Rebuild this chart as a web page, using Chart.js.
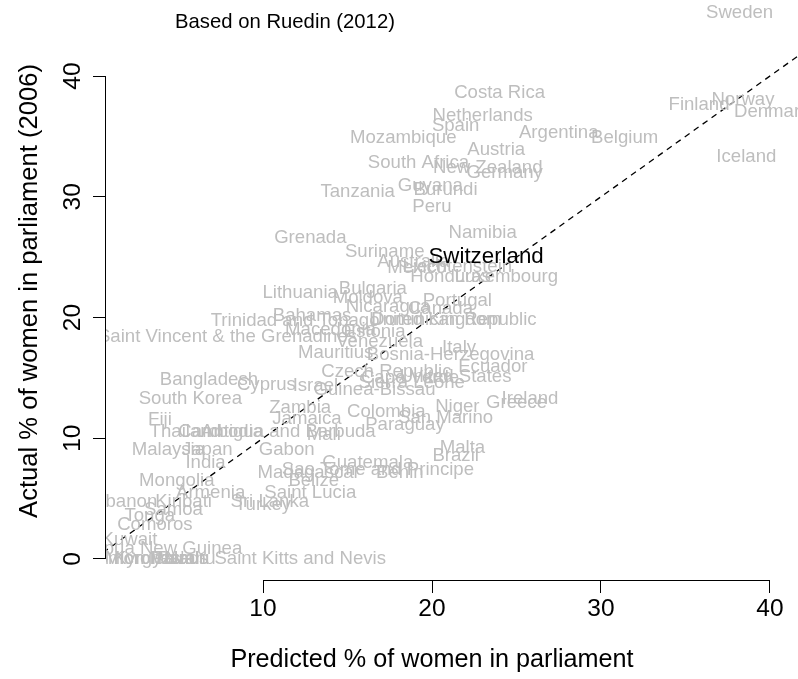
<!DOCTYPE html>
<html><head><meta charset="utf-8">
<script src="https://cdn.jsdelivr.net/npm/chart.js@4/dist/chart.umd.min.js"></script>
<style>html,body{margin:0;padding:0;background:#fff}</style>
</head><body>
<canvas id="c" width="798" height="679"></canvas>
<script>
const countries = ["Sweden","Costa Rica","Finland","Norway","Denmark","Netherlands","Spain","Argentina","Belgium","Mozambique","Austria","Iceland","South Africa","New Zealand","Germany","Tanzania","Guyana","Burundi","Peru","Namibia","Grenada","Suriname","Switzerland","Australia","Mexico","Liechtenstein","Honduras","Luxembourg","Lithuania","Bulgaria","Moldova","Nicaragua","Portugal","Canada","Dominican Republic","United Kingdom","Trinidad and Tobago","Bahamas","Macedonia","Estonia","Saint Vincent & the Grenadines","Venezuela","Italy","Mauritius","Bosnia-Herzegovina","Ecuador","United States","Czech Republic","Cape Verde","Sierra Leone","Guinea-Bissau","Bangladesh","Cyprus","Israel","South Korea","Zambia","Jamaica","Colombia","Niger","Ireland","Greece","San Marino","Paraguay","Fiji","Thailand","Cambodia","Antigua and Barbuda","Mali","Malaysia","Japan","India","Gabon","Guatemala","Madagascar","Sao Tome and Principe","Belize","Benin","Malta","Brazil","Mongolia","Armenia","Saint Lucia","Sri Lanka","Turkey","Kiribati","Lebanon","Samoa","Tonga","Comoros","Kuwait","Papua New Guinea","Saint Kitts and Nevis","Solomon Islands","Kyrgyzstan","Micronesia","Palau","Tuvalu","Nauru"];
const predicted = [38.2,24.0,35.8,38.4,40.1,23.0,21.4,27.5,31.4,18.3,23.8,38.6,19.2,23.3,24.3,15.6,19.9,20.8,20.0,23.0,12.8,17.2,23.2,18.9,19.1,21.5,21.1,24.4,12.2,16.5,16.2,17.4,21.5,20.5,21.3,20.2,11.9,12.9,14.0,16.6,7.9,16.9,21.6,14.3,21.1,23.6,21.4,17.3,18.7,18.8,16.6,6.8,10.2,13.1,5.7,12.2,12.6,17.3,21.5,25.8,25.0,20.8,18.4,3.9,5.4,7.5,11.5,13.6,4.4,6.7,6.6,11.4,16.2,12.7,16.8,13.0,18.1,21.8,21.4,4.9,6.9,12.8,10.4,10.0,5.3,1.6,4.7,3.3,3.6,2.1,4.0,12.2,2.7,3.9,3.3,4.8,5.2,5.7];
const actual = [45.2,38.6,37.6,38.0,37.0,36.7,35.9,35.3,34.9,34.9,33.9,33.3,32.8,32.4,32.0,30.4,30.9,30.6,29.2,27.0,26.6,25.4,25.0,24.6,24.1,24.2,23.4,23.4,22.0,22.4,21.6,20.9,21.4,20.7,19.8,19.8,19.7,20.1,19.0,18.8,18.4,18.0,17.5,17.1,16.9,15.9,15.1,15.5,15.0,14.6,14.0,14.8,14.4,14.3,13.3,12.5,11.6,12.2,12.6,13.3,12.9,11.7,11.1,11.5,10.5,10.5,10.5,10.3,9.0,9.0,8.0,9.0,8.0,7.1,7.4,6.5,7.1,9.2,8.5,6.5,5.5,5.5,4.7,4.5,4.7,4.7,4.1,3.6,2.8,1.6,0.8,0,0,0,0,0,0,0];
const highlight = "Switzerland";
const xTicks = [10, 20, 30, 40];
const yTicks = [0, 10, 20, 30, 40];
const refLine = [0, 50];
const titleText = "Based on Ruedin (2012)";
const xTitle = "Predicted % of women in parliament";
const yTitle = "Actual % of women in parliament (2006)";

const FONT = "'Liberation Sans', Arial, Helvetica, sans-serif";

const labelPlugin = {
  id: 'countryLabels',
  afterDatasetsDraw(chart) {
    const {ctx, chartArea} = chart;
    const meta = chart.getDatasetMeta(0);
    ctx.save();
    ctx.beginPath();
    ctx.rect(chartArea.left, 0, chart.width - chartArea.left, chartArea.bottom);
    ctx.clip();
    ctx.textAlign = 'center';
    ctx.textBaseline = 'middle';
    let hi = -1;
    countries.forEach((name, i) => {
      if (name === highlight) { hi = i; return; }
      const p = meta.data[i];
      ctx.font = "18.6px " + FONT;
      ctx.fillStyle = '#bebebe';
      ctx.fillText(name, p.x, p.y);
    });
    if (hi >= 0) {
      const p = meta.data[hi];
      ctx.font = "22.3px " + FONT;
      ctx.fillStyle = '#000';
      ctx.fillText(countries[hi], p.x, p.y);
    }
    ctx.restore();
  },
  afterDraw(chart) {
    const {ctx, chartArea, scales: {x, y}} = chart;
    ctx.save();
    ctx.strokeStyle = '#000';
    ctx.lineWidth = 1;
    ctx.beginPath();
    ctx.moveTo(x.getPixelForValue(xTicks[0]), chartArea.bottom + 0.5);
    ctx.lineTo(x.getPixelForValue(xTicks[xTicks.length - 1]), chartArea.bottom + 0.5);
    ctx.moveTo(chartArea.left - 0.5, y.getPixelForValue(yTicks[0]));
    ctx.lineTo(chartArea.left - 0.5, y.getPixelForValue(yTicks[yTicks.length - 1]));
    ctx.stroke();
    ctx.font = "20.3px " + FONT;
    ctx.fillStyle = '#000';
    ctx.textAlign = 'center';
    ctx.textBaseline = 'middle';
    ctx.fillText(titleText, chartArea.left + 179, 22);
    ctx.restore();
  }
};

new Chart(document.getElementById('c'), {
  type: 'scatter',
  data: {
    datasets: [
      {
        data: countries.map((c, i) => ({x: predicted[i], y: actual[i]})),
        pointRadius: 0,
        pointHoverRadius: 0
      },
      {
        type: 'line',
        data: refLine.map(v => ({x: v, y: v})),
        borderColor: '#000',
        borderWidth: 1.3,
        borderDash: [6, 5],
        pointRadius: 0,
        fill: false,
        clip: {left: 0, top: false, right: 40, bottom: 0}
      }
    ]
  },
  options: {
    responsive: false,
    animation: false,
    devicePixelRatio: 1,
    events: [],
    layout: {padding: {left: 0, top: 2, right: 40, bottom: 0}},
    plugins: {legend: {display: false}, tooltip: {enabled: false}},
    scales: {
      x: {
        type: 'linear',
        min: 0.71, max: 39.29,
        afterBuildTicks: s => { s.ticks = xTicks.map(v => ({value: v})); },
        afterFit: s => { s.height = 99; s.paddingLeft = 0; s.paddingRight = 0; },
        grid: {display: true, drawOnChartArea: false, drawTicks: true, tickLength: 13, color: '#000', lineWidth: 1},
        border: {display: false},
        ticks: {font: {family: FONT, size: 24.5}, color: '#000', padding: 2, autoSkip: false, maxRotation: 0, minRotation: 0},
        title: {display: true, text: xTitle, font: {family: FONT, size: 25.2}, color: '#000', padding: {top: 0, bottom: 4}}
      },
      y: {
        type: 'linear',
        min: -1.74, max: 46.13,
        afterBuildTicks: s => { s.ticks = yTicks.map(v => ({value: v})); },
        afterFit: s => { s.width = 106; s.paddingTop = 0; s.paddingBottom = 0; },
        grid: {display: true, drawOnChartArea: false, drawTicks: true, tickLength: 13, color: '#000', lineWidth: 1},
        border: {display: false},
        ticks: {font: {family: FONT, size: 24.5}, color: '#000', padding: 6, autoSkip: false, minRotation: 90, maxRotation: 90, crossAlign: 'center'},
        title: {display: true, text: yTitle, font: {family: FONT, size: 25.6}, color: '#000', padding: {top: 15, bottom: 0}}
      }
    }
  },
  plugins: [labelPlugin]
});
</script>
</body></html>
